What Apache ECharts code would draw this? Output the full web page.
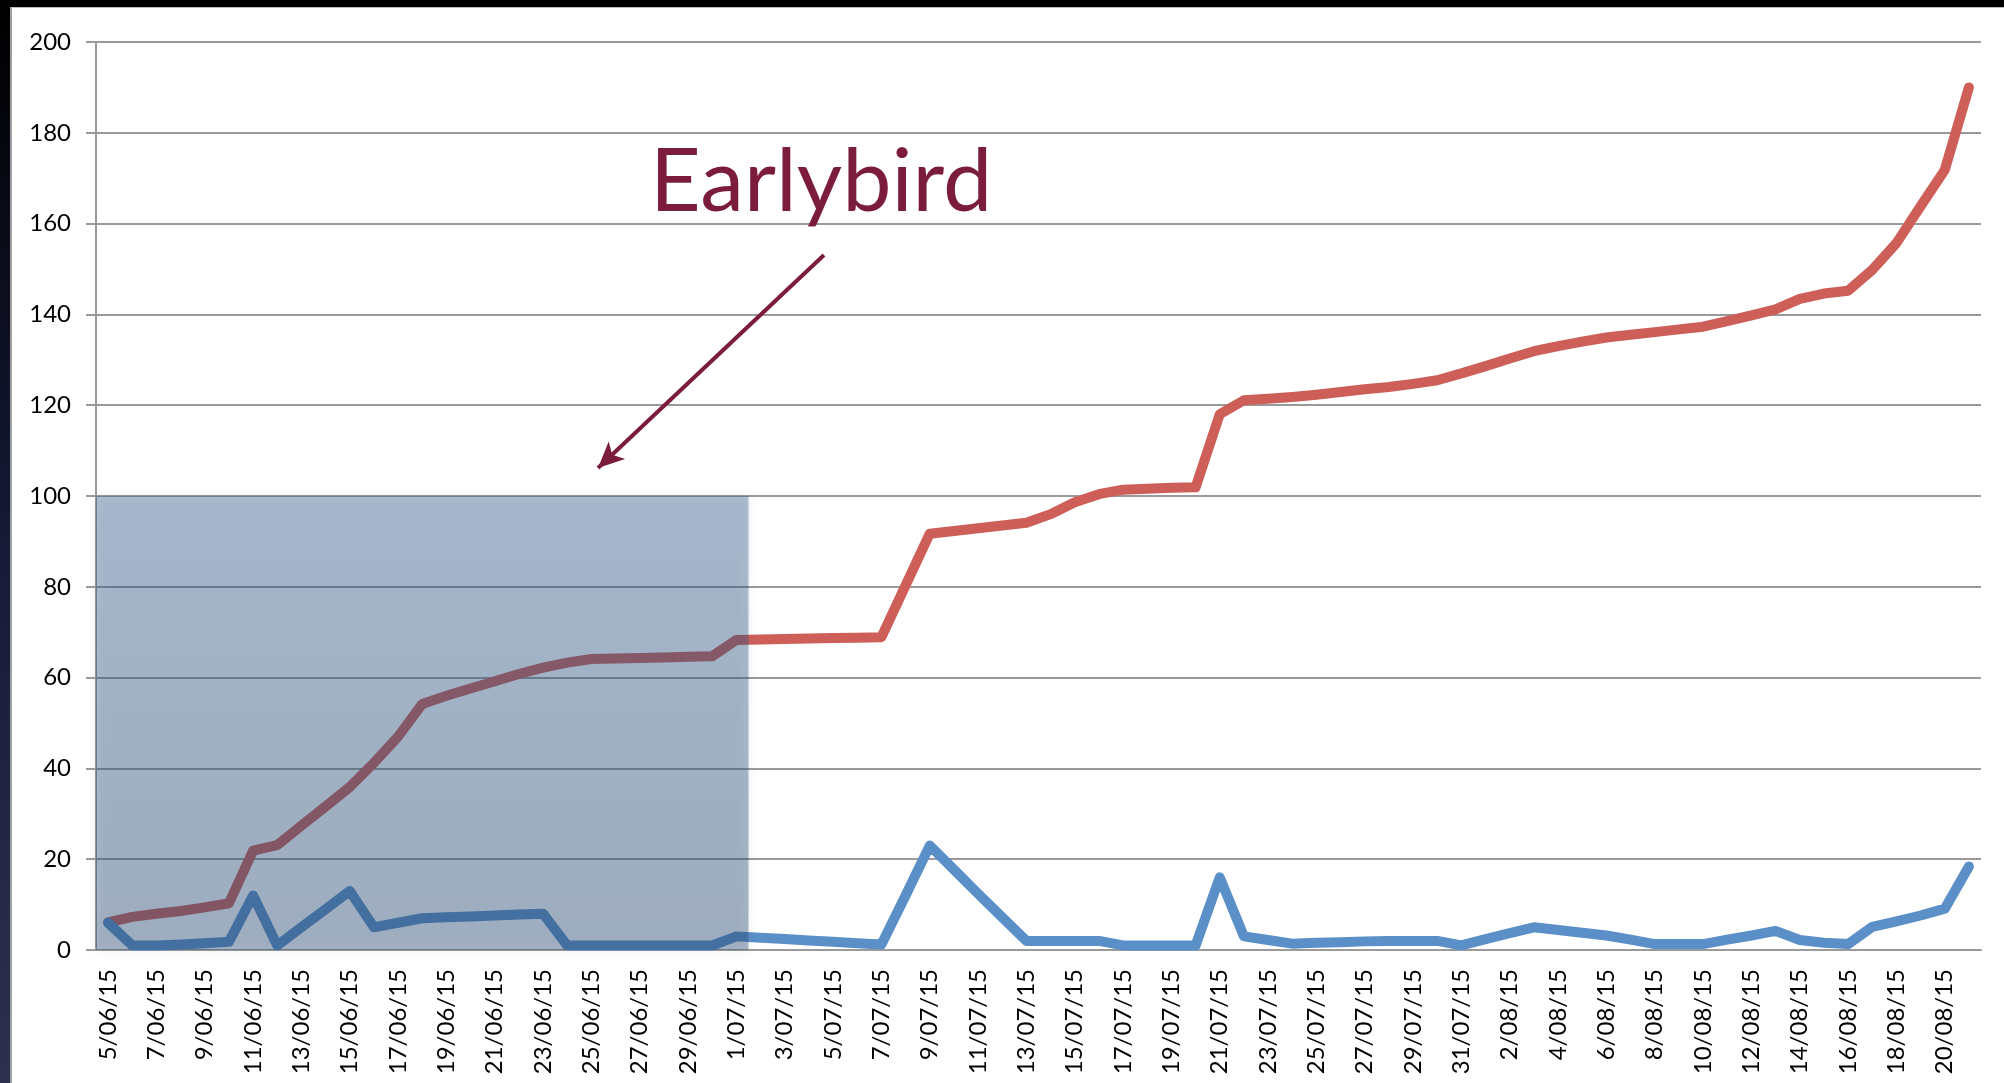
<!DOCTYPE html>
<html>
<head>
<meta charset="utf-8">
<script src="https://cdn.jsdelivr.net/npm/echarts@6/dist/echarts.min.js"></script>
<style>
  html, body { margin: 0; padding: 0; width: 2004px; height: 1083px; overflow: hidden; }
  body { background: linear-gradient(180deg, #000000 0%, #151a36 50%, #2e3050 100%); position: relative; }
  #paper { position: absolute; left: 10px; top: 7px; right: 0; bottom: 0; background: #fff; border-left: 2px solid #a0a0a0; border-top: 1px solid #bbb; }
  #chart { position: absolute; left: 0; top: 0; width: 2004px; height: 1083px; }
</style>
</head>
<body>
<div id="paper"></div>
<div id="chart"></div>
<script>
const dates = [
  '5/06/15','6/06/15','7/06/15','8/06/15','9/06/15','10/06/15','11/06/15','12/06/15','13/06/15','14/06/15',
  '15/06/15','16/06/15','17/06/15','18/06/15','19/06/15','20/06/15','21/06/15','22/06/15','23/06/15','24/06/15',
  '25/06/15','26/06/15','27/06/15','28/06/15','29/06/15','30/06/15',
  '1/07/15','2/07/15','3/07/15','4/07/15','5/07/15','6/07/15','7/07/15','8/07/15','9/07/15','10/07/15',
  '11/07/15','12/07/15','13/07/15','14/07/15','15/07/15','16/07/15','17/07/15','18/07/15','19/07/15','20/07/15',
  '21/07/15','22/07/15','23/07/15','24/07/15','25/07/15','26/07/15','27/07/15','28/07/15','29/07/15','30/07/15',
  '31/07/15',
  '1/08/15','2/08/15','3/08/15','4/08/15','5/08/15','6/08/15','7/08/15','8/08/15','9/08/15','10/08/15',
  '11/08/15','12/08/15','13/08/15','14/08/15','15/08/15','16/08/15','17/08/15','18/08/15','19/08/15','20/08/15',
  '21/08/15'
];

// running total (red)
const totals = [
  6.1, 7.3, 8.0, 8.6, 9.4, 10.3, 21.9, 23.1, 27.4, 31.6,
  35.9, 41.2, 47.0, 54.2, 56.0, 57.6, 59.2, 60.8, 62.2, 63.3,
  64.1, 64.2, 64.3, 64.4, 64.6, 64.7,
  68.3, 68.4, 68.5, 68.6, 68.7, 68.8, 68.9, 80.3, 91.7, 92.3,
  92.9, 93.5, 94.1, 96.0, 98.6, 100.4, 101.4, 101.6, 101.8, 101.9,
  118.0, 121.1, 121.4, 121.8, 122.3, 122.9, 123.5, 124.0, 124.7, 125.5,
  127.0,
  128.6, 130.3, 131.9, 133.0, 134.0, 134.9, 135.5, 136.1, 136.7, 137.3,
  138.5, 139.8, 141.1, 143.4, 144.6, 145.2, 149.8, 155.7, 163.8, 171.8,
  190.0
];

// per day (blue)
const daily = [
  6, 1, 1, 1.2, 1.5, 1.8, 12, 1, 5, 9,
  13, 5, 6, 7, 7.2, 7.4, 7.6, 7.8, 8, 1,
  1, 1, 1, 1, 1, 1,
  3, 2.7, 2.4, 2.1, 1.8, 1.5, 1.2, 12, 23, 17.7,
  12.4, 7.2, 2, 2, 2, 2, 1, 1, 1, 1,
  16, 3, 2.2, 1.4, 1.6, 1.7, 1.9, 2, 2, 2,
  1,
  2.4, 3.7, 5, 4.4, 3.8, 3.2, 2.3, 1.3, 1.3, 1.3,
  2.3, 3.2, 4.2, 2.2, 1.6, 1.3, 5.1, 6.3, 7.6, 9.1,
  18.4
];

// earlybird period: first day band to end of 1/07 band, up to 100
const earlyStart = 0, earlyEnd = 27, earlyTop = 100;

const axisGray = '#9a9a9a';
const labelFont = 'Lato, "Open Sans", sans-serif';

const chart = echarts.init(document.getElementById('chart'), null, { renderer: 'canvas' });

chart.setOption({
  animation: false,
  backgroundColor: 'transparent',
  grid: { left: 96, right: 23, top: 42, bottom: 133, containLabel: false },
  xAxis: [
    {
      type: 'category',
      data: dates,
      boundaryGap: true,
      axisLine: { lineStyle: { color: axisGray, width: 2 } },
      axisTick: { interval: 1, length: 7, lineStyle: { color: axisGray, width: 2 } },
      axisLabel: { interval: 1, rotate: 90, margin: 19, color: '#000', fontSize: 24, fontFamily: labelFont },
      splitLine: { show: false }
    },
    {
      type: 'value', min: 0, max: dates.length, show: false
    }
  ],
  yAxis: {
    type: 'value',
    min: 0, max: 200, interval: 20,
    axisLine: { show: true, lineStyle: { color: axisGray, width: 2 } },
    axisTick: { show: true, length: 10, lineStyle: { color: axisGray, width: 2 } },
    axisLabel: { margin: 25, color: '#000', fontSize: 24, fontFamily: labelFont },
    splitLine: { lineStyle: { color: axisGray, width: 2 } }
  },
  graphic: [
    {
      type: 'text', x: 650, y: 183, z: 100,
      style: { text: 'Earlybird', fill: '#7b1b3d', font: '88px Lato, "Open Sans", sans-serif', verticalAlign: 'middle' }
    }
  ],
  series: [
    {
      name: 'Total',
      type: 'line',
      data: totals,
      showSymbol: false,
      z: 3,
      lineStyle: { color: '#cd5f58', width: 10, cap: 'round', join: 'round' },
      itemStyle: { color: '#cd5f58' }
    },
    {
      name: 'Daily',
      type: 'line',
      data: daily,
      showSymbol: false,
      z: 4,
      lineStyle: { color: '#5a8fc7', width: 10, cap: 'round', join: 'round' },
      itemStyle: { color: '#5a8fc7' }
    },
    {
      name: 'Earlybird',
      type: 'line',
      xAxisIndex: 1,
      data: [],
      z: 10,
      silent: true,
      markArea: {
        z: 10,
        silent: true,
        itemStyle: {
          color: {
            type: 'linear', x: 0, y: 0, x2: 0, y2: 1,
            colorStops: [
              { offset: 0, color: 'rgba(40,85,135,0.36)' },
              { offset: 1, color: 'rgba(35,70,110,0.38)' }
            ]
          },
          shadowBlur: 10,
          shadowColor: 'rgba(60,85,120,0.3)'
        },
        data: [[{ coord: [earlyStart, earlyTop] }, { coord: [earlyEnd, 0] }]]
      },
      markLine: {
        z: 12,
        silent: true,
        symbol: ['none', 'arrow'],
        symbolSize: [18, 26],
        label: { show: false },
        lineStyle: { color: '#7b1b3d', width: 4, type: 'solid' },
        data: [[{ x: 824, y: 255 }, { x: 598, y: 468 }]]
      }
    }
  ]
});
</script>
</body>
</html>
